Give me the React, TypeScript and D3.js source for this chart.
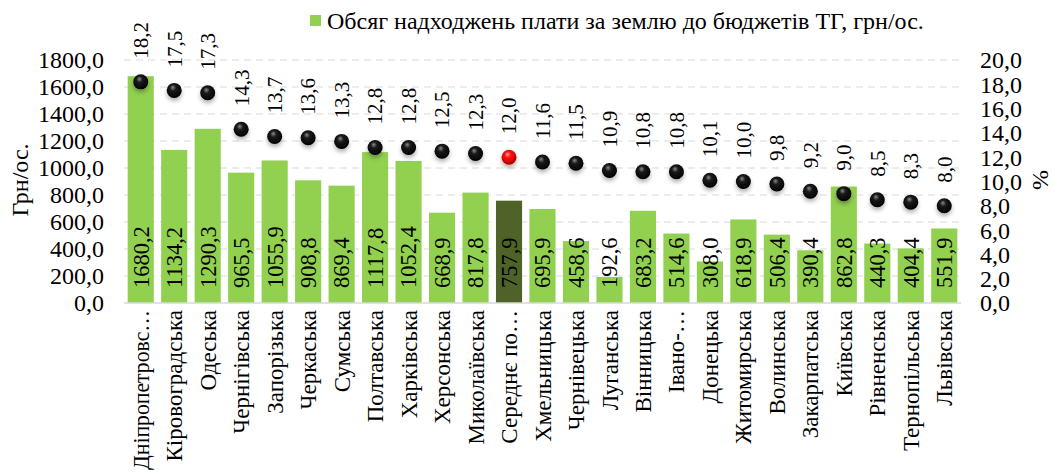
import { useEffect, useRef } from "react";
import * as d3 from "d3";

const regions = [
  "Дніпропетровс…", "Кіровоградська", "Одеська", "Чернігівська", "Запорізька",
  "Черкаська", "Сумська", "Полтавська", "Харківська", "Херсонська",
  "Миколаївська", "Середнє по…", "Хмельницька", "Чернівецька", "Луганська",
  "Вінницька", "Івано-…", "Донецька", "Житомирська", "Волинська",
  "Закарпатська", "Київська", "Рівненська", "Тернопільська", "Львівська",
];
const payments = [
  1680.2, 1134.2, 1290.3, 965.5, 1055.9, 908.8, 869.4, 1117.8, 1052.4, 668.9,
  817.8, 757.9, 695.9, 458.6, 192.6, 683.2, 514.6, 308.0, 618.9, 506.4,
  390.4, 862.8, 440.3, 404.4, 551.9,
];
const shares = [
  18.2, 17.5, 17.3, 14.3, 13.7, 13.6, 13.3, 12.8, 12.8, 12.5, 12.3, 12.0,
  11.6, 11.5, 10.9, 10.8, 10.8, 10.1, 10.0, 9.8, 9.2, 9.0, 8.5, 8.3, 8.0,
];
const leftTicks = [0, 200, 400, 600, 800, 1000, 1200, 1400, 1600, 1800];
const rightTicks = [0, 2, 4, 6, 8, 10, 12, 14, 16, 18, 20];
const avgLabel = "Середнє по…";
const legendText = "Обсяг надходжень плати за землю до бюджетів ТГ, грн/ос.";

const fmt = (v: number) => v.toFixed(1).replace(".", ",");

const W = 1055;
const H = 473;
const FONT = "'Liberation Serif', 'Times New Roman', Times, serif";

export default function App() {
  const svgRef = useRef<SVGSVGElement | null>(null);

  useEffect(() => {
    if (!svgRef.current) return;
    const svg = d3.select(svgRef.current);
    svg.selectAll("*").remove();

    const left = 124, right = 961, top = 60, bottom = 303;

    const x = d3.scaleBand().domain(regions).range([left, right]).paddingInner(0.22).paddingOuter(0.11);
    const y = d3.scaleLinear().domain([0, 1800]).range([bottom, top]);
    const y2 = d3.scaleLinear().domain([0, 20]).range([bottom, top]);
    const cx = (i: number) => (x(regions[i]) || 0) + x.bandwidth() / 2;

    const defs = svg.append("defs");
    const mkGrad = (id: string, light: string, mid: string, dark: string) => {
      const g = defs.append("radialGradient").attr("id", id)
        .attr("cx", "45%").attr("cy", "40%").attr("r", "60%").attr("fx", "40%").attr("fy", "30%");
      g.append("stop").attr("offset", "0%").attr("stop-color", light);
      g.append("stop").attr("offset", "35%").attr("stop-color", mid);
      g.append("stop").attr("offset", "100%").attr("stop-color", dark);
    };
    mkGrad("ball", "#8a8a8a", "#1a1a1a", "#000");
    mkGrad("ballRed", "#ff9a9a", "#ff1010", "#b00000");
    const sh = defs.append("filter").attr("id", "shadow").attr("x", "-50%").attr("y", "-50%").attr("width", "200%").attr("height", "200%");
    sh.append("feDropShadow").attr("dx", 0).attr("dy", 3).attr("stdDeviation", 2).attr("flood-color", "#000").attr("flood-opacity", 0.3);

    const root = svg.append("g").style("font-family", FONT);

    // gridlines
    root.append("g").selectAll("line").data(leftTicks.slice(1)).join("line")
      .attr("x1", left).attr("x2", right)
      .attr("y1", d => y(d)).attr("y2", d => y(d))
      .attr("stroke", "#d9d9d9").attr("stroke-width", 1.2).attr("stroke-dasharray", "7,5");

    // bars
    root.append("g").selectAll("rect").data(payments).join("rect")
      .attr("x", (_, i) => x(regions[i]) || 0)
      .attr("y", d => y(d))
      .attr("width", x.bandwidth())
      .attr("height", d => bottom - y(d))
      .attr("fill", (_, i) => regions[i] === avgLabel ? "#4f6228" : "#92d050");

    // baseline
    root.append("line").attr("x1", left).attr("x2", right).attr("y1", bottom).attr("y2", bottom)
      .attr("stroke", "#d9d9d9").attr("stroke-width", 1.5);

    // bar value labels
    root.append("g").selectAll("text").data(payments).join("text")
      .attr("transform", (_, i) => `translate(${cx(i)},${bottom - 15}) rotate(-90)`)
      .attr("dy", "0.35em")
      .attr("font-size", 22.5)
      .attr("fill", "#000")
      .text(d => fmt(d));

    // dots
    root.append("g").selectAll("circle").data(shares).join("circle")
      .attr("cx", (_, i) => cx(i))
      .attr("cy", d => y2(d))
      .attr("r", 7.5)
      .attr("filter", "url(#shadow)")
      .attr("fill", (_, i) => regions[i] === avgLabel ? "url(#ballRed)" : "url(#ball)");

    // dot labels
    root.append("g").selectAll("text").data(shares).join("text")
      .attr("transform", (d, i) => `translate(${cx(i)},${y2(d) - 23}) rotate(-90)`)
      .attr("dy", "0.35em")
      .attr("font-size", 21)
      .text(d => fmt(d));

    // left axis
    root.append("g").selectAll("text").data(leftTicks).join("text")
      .attr("x", 104).attr("y", d => y(d)).attr("dy", "0.35em")
      .attr("text-anchor", "end").attr("font-size", 24)
      .text(d => fmt(d));

    // right axis
    root.append("g").selectAll("text").data(rightTicks).join("text")
      .attr("x", 980).attr("y", d => y2(d)).attr("dy", "0.35em")
      .attr("font-size", 24)
      .text(d => fmt(d));

    // x labels (squeeze anything that would run off the bottom)
    const maxLen = H - bottom - 10;
    root.append("g").selectAll("text").data(regions).join("text")
      .attr("transform", d => `translate(${(x(d) || 0) + x.bandwidth() / 2},${bottom + 7}) rotate(-90)`)
      .attr("dy", "0.35em")
      .attr("text-anchor", "end")
      .attr("font-size", 23)
      .text(d => d)
      .each(function () {
        const el = this as SVGTextElement;
        if (el.getComputedTextLength() > maxLen) {
          el.setAttribute("textLength", String(maxLen));
          el.setAttribute("lengthAdjust", "spacingAndGlyphs");
        }
      });

    // axis titles
    root.append("text").attr("transform", "translate(20,180) rotate(-90)")
      .attr("dy", "0.35em").attr("text-anchor", "middle").attr("font-size", 24).text("Грн/ос.");
    root.append("text").attr("transform", "translate(1040,180) rotate(-90)")
      .attr("dy", "0.35em").attr("text-anchor", "middle").attr("font-size", 24).text("%");

    // legend
    root.append("rect").attr("x", 310).attr("y", 15).attr("width", 11).attr("height", 11).attr("fill", "#92d050");
    root.append("text").attr("x", 327).attr("y", 29).attr("font-size", 24).text(legendText);
  }, []);

  return (
    <svg ref={svgRef} width={W} height={H}
      style={{ position: "absolute", left: 0, top: 0, background: "#fff" }} />
  );
}
